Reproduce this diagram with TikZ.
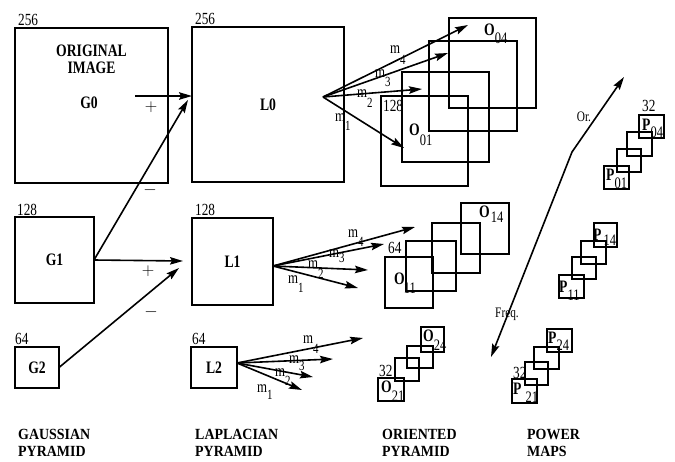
\documentclass[tikz,border=0pt]{standalone}
\usepackage{fontspec}
\setmainfont{Liberation Serif}[FakeStretch=0.78]
\newfontfamily\capfont{Liberation Serif}[FakeStretch=0.9]
\usetikzlibrary{arrows.meta}
\newcommand\sublab[6]{\node[sl] (#1) at (#2) {\textbf{#3}\hspace{#6}\raisebox{#4}{\fontsize{16}{16}\selectfont #5}};}
\newcommand\mlab[4]{\node[ml] (#1) at (#2) {m\raisebox{#4}{\fontsize{14}{14}\selectfont #3}};}
\begin{document}
\begin{tikzpicture}[x=1pt,y=-1pt,
  box/.style={draw, line width=1.2pt, inner sep=0pt, outer sep=0pt, anchor=north west,
    font=\fontsize{17.5}{17.5}\selectfont\bfseries},
  arr/.style={line width=1.6pt, -{Stealth[length=13pt,width=7.5pt,inset=2pt]}},
  num/.style={inner sep=0pt, anchor=base west, font=\fontsize{17}{17}\selectfont},
  sl/.style={inner sep=0pt, anchor=base west, font=\fontsize{17.5}{17.5}\selectfont},
  ml/.style={inner sep=0pt, anchor=base west, font=\fontsize{16.5}{16.5}\selectfont},
  captxt/.style={inner sep=0pt, anchor=north west, align=left, font=\capfont\fontsize{15.5}{17}\selectfont\bfseries},
  signtxt/.style={inner sep=0pt, font=\fontsize{17}{17}\selectfont},
  smalltxt/.style={inner sep=0pt, font=\fontsize{14.5}{15}\selectfont}]
\useasboundingbox (0,0) rectangle (675,461);

% Gaussian pyramid
\node[box, minimum width=153pt, minimum height=155pt] (g0) at (15,28) {};
\node[inner sep=0pt, anchor=north, align=center, font=\fontsize{17.5}{17}\selectfont\bfseries] (orig) at (91.5,45) {ORIGINAL\\IMAGE};
\node[inner sep=0pt, font=\fontsize{17.5}{17.5}\selectfont\bfseries] (g0lab) at (89,102.5) {G0};
\node[box, minimum width=79pt, minimum height=86pt] (g1) at (15,217) {G1};
\node[box, minimum width=44pt, minimum height=41pt] (g2) at (15,347) {G2};
\node[num] (n256a) at (18,25) {256};
\node[num] (n128a) at (17,215) {128};
\node[num] (n64a) at (15,344) {64};

% Laplacian pyramid
\node[box, minimum width=152pt, minimum height=155pt] (l0) at (192,27) {L0};
\node[box, minimum width=81pt, minimum height=87pt] (l1) at (192,218) {L1};
\node[box, minimum width=46pt, minimum height=41pt] (l2) at (191,347) {L2};
\node[num] (n256b) at (195,24) {256};
\node[num] (n128b) at (195,215) {128};
\node[num] (n64b) at (192,344) {64};

% G -> L arrows
\coordinate (g0out) at (135,96);
\coordinate (l0in) at (188,100);
\coordinate (l1in) at (183,261);
\coordinate (l1in2) at (179,268);
\draw[arr] (g0out) -- (l0.west |- g0out);
\draw[arr] (g1.east) -- (l0in);
\draw[arr] (g1.east) -- (l1in);
\draw[arr] (g2.east) -- (l1in2);
\node[signtxt] (p1) at (151,107) {$+$};
\node[signtxt] (mi1) at (150,190) {$-$};
\node[signtxt] (p2) at (148,271) {$+$};
\node[signtxt] (mi2) at (151,312) {$-$};

% Oriented pyramid level 0
\node[box, minimum width=87pt, minimum height=90pt] (o01) at (381,96) {};
\node[box, minimum width=87pt, minimum height=90pt] (o02) at (402,72) {};
\node[box, minimum width=88pt, minimum height=90pt] (o03) at (429,41) {};
\node[box, minimum width=87pt, minimum height=90pt] (o04) at (449,18) {};
\node[num] (n128c) at (383,111) {128};
\sublab{lo01}{409,135}{O}{-10pt}{01}{0pt}
\sublab{lo04}{484,35}{O}{-8pt}{04}{0pt}

% Oriented pyramid level 1
\node[box, minimum width=48pt, minimum height=51pt] (o11) at (385,257) {};
\node[box, minimum width=50pt, minimum height=50pt] (o12) at (406,241) {};
\node[box, minimum width=48pt, minimum height=50pt] (o13) at (432,223) {};
\node[box, minimum width=48pt, minimum height=51pt] (o14) at (461,203) {};
\node[num] (n64c) at (388,253) {64};
\sublab{lo11}{394,284}{O}{-9pt}{11}{-1pt}
\sublab{lo14}{479,217}{O}{-5pt}{14}{1pt}

% Oriented pyramid level 2
\node[box, minimum width=26pt, minimum height=23pt] (o21) at (378,378) {};
\node[box, minimum width=24pt, minimum height=23pt] (o22) at (395,358) {};
\node[box, minimum width=26pt, minimum height=22pt] (o23) at (407,346) {};
\node[box, minimum width=23pt, minimum height=25pt] (o24) at (421,327) {};
\node[num] (n32a) at (379,376) {32};
\sublab{lo24}{423,341}{O}{-9pt}{24}{0pt}
\sublab{lo21}{381,392}{O}{-9pt}{21}{0pt}

% Power maps
\node[box, minimum width=25pt, minimum height=23pt] (p01) at (604,166) {};
\node[box, minimum width=24pt, minimum height=23pt] (p02) at (617,149) {};
\node[box, minimum width=25pt, minimum height=24pt] (p03) at (627,132) {};
\node[box, minimum width=25pt, minimum height=23pt] (p04) at (639,115) {};
\node[num] (n32b) at (642,111) {32};
\sublab{lp04}{642,130}{P}{-7pt}{04}{0pt}
\sublab{lp01}{606,180}{P}{-8pt}{01}{0pt}

\node[box, minimum width=25pt, minimum height=23pt] (p11) at (559,275) {};
\node[box, minimum width=24pt, minimum height=22pt] (p12) at (572,257) {};
\node[box, minimum width=25pt, minimum height=23pt] (p13) at (581,241) {};
\node[box, minimum width=23pt, minimum height=24pt] (p14) at (594,223) {};
\sublab{lp14}{593,240}{P}{-5pt}{14}{2pt}
\sublab{lp11}{559,292}{P}{-8pt}{11}{0pt}

\node[box, minimum width=25pt, minimum height=24pt] (p21) at (512,379) {};
\node[box, minimum width=23pt, minimum height=23pt] (p22) at (525,362) {};
\node[box, minimum width=25pt, minimum height=22pt] (p23) at (534,347) {};
\node[box, minimum width=25pt, minimum height=23pt] (p24) at (547,329) {};
\node[num] (n32c) at (513,378) {32};
\sublab{lp24}{548,343}{P}{-7pt}{24}{0pt}
\sublab{lp21}{513,394}{P}{-8pt}{21}{4pt}

% fans from L0
\coordinate (l0f) at (323,97);
\coordinate (e04) at (468,25);
\coordinate (e03) at (448,53);
\coordinate (e02) at (422,89);
\coordinate (e01) at (404,148);
\foreach \e in {e04,e03,e02,e01} \draw[arr] (l0f) -- (\e);
\mlab{m04}{390,53}{4}{-11pt}
\mlab{m03}{375,77}{3}{-9pt}
\mlab{m02}{357,97}{2}{-10pt}
\mlab{m01}{335,121}{1}{-9pt}

% fans from L1
\coordinate (l1f) at (273,266);
\coordinate (e14) at (415,227);
\coordinate (e13) at (384,244);
\coordinate (e12) at (368,270);
\coordinate (e11) at (358,288);
\foreach \e in {e14,e13,e12,e11} \draw[arr] (l1f) -- (\e);
\mlab{m14}{348,237}{4}{-9pt}
\mlab{m13}{329,257}{3}{-5pt}
\mlab{m12}{308,268}{2}{-10pt}
\mlab{m11}{288,283}{1}{-9pt}

% fans from L2
\coordinate (l2f) at (237,363);
\coordinate (e24) at (363,338);
\coordinate (e23) at (333,359);
\coordinate (e22) at (313,377);
\coordinate (e21) at (302,390);
\foreach \e in {e24,e23,e22,e21} \draw[arr] (l2f) -- (\e);
\mlab{m24}{303,343}{4}{-10pt}
\mlab{m23}{289,363}{3}{-7pt}
\mlab{m22}{275,376}{2}{-9pt}
\mlab{m21}{257,392}{1}{-7pt}

% frequency / orientation axis
\coordinate (fq) at (491,357);
\coordinate (bend) at (572,152);
\coordinate (orr) at (624,77);
\draw[line width=1.6pt, {Stealth[length=13pt,width=7.5pt,inset=2pt]}-{Stealth[length=13pt,width=7.5pt,inset=2pt]}] (fq) -- (bend) -- (orr);
\node[smalltxt] (orlab) at (584,117) {Or.};
\node[smalltxt] (fqlab) at (507,314) {Freq.};

% captions
\node[captxt] (c1) at (18,429) {GAUSSIAN\\PYRAMID};
\node[captxt] (c2) at (195,429) {LAPLACIAN\\PYRAMID};
\node[captxt] (c3) at (382,429) {ORIENTED\\PYRAMID};
\node[captxt] (c4) at (527,429) {POWER\\MAPS};
\end{tikzpicture}
\end{document}
